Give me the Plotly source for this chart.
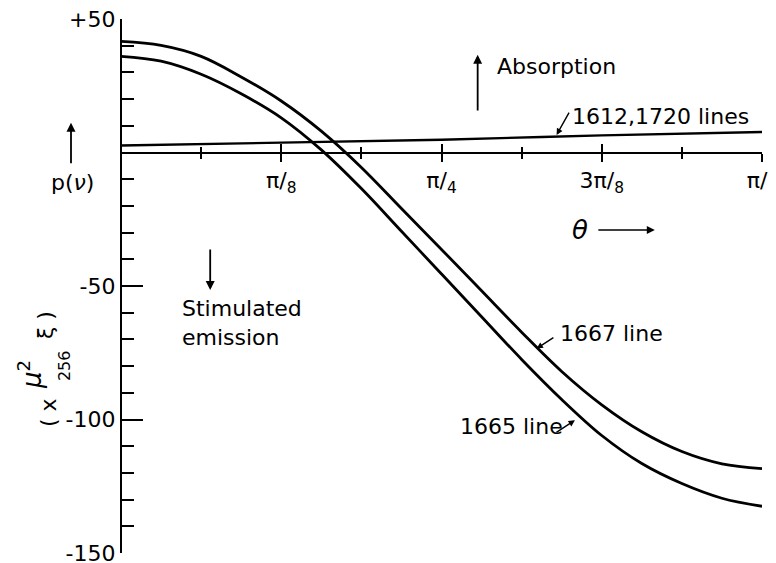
import numpy as np
import plotly.graph_objects as go

# ---- data (theta in steps of pi/32) ----
THETA = [k * np.pi / 32 for k in range(17)]
P1667 = [41.6, 40.1, 36.0, 28.3, 19.3, 8.0, -5.6, -21.0, -36.3, -51.8, -67.3,
         -82.0, -94.5, -104.6, -112.0, -116.6, -118.4]
P1665 = [36.0, 34.2, 29.3, 22.0, 13.0, 1.0, -13.5, -29.5, -45.5, -61.5, -77.5,
         -92.5, -106.0, -116.5, -124.0, -129.5, -132.5]

THETA_SAT = [0, np.pi/8, np.pi/4, 3*np.pi/8, np.pi/2]
P1612 = [2.6, 3.7, 4.8, 6.4, 7.7]

X_TICKS = [np.pi/8, np.pi/4, 3*np.pi/8, np.pi/2]
X_TICKTEXT = ["π/<sub>8</sub>", "π/<sub>4</sub>", "3π/<sub>8</sub>", "π/<sub>2</sub>"]
X_MINOR = [np.pi/16, 3*np.pi/16, 5*np.pi/16, 7*np.pi/16]

Y_TICKS = [50, -50, -100, -150]
Y_TICKTEXT = ["+50", "-50", "-100", "-150"]
Y_MINOR = [40, 30, 20, 10, -10, -20, -30, -40, -60, -70, -80, -90,
           -110, -120, -130, -140]

FONT = "DejaVu Sans"
FS = 22

fig = go.Figure()
for ys in (P1667, P1665):
    fig.add_trace(go.Scatter(x=THETA, y=ys, mode="lines",
                             line=dict(color="black", width=2.8, shape="spline", smoothing=1.0),
                             hoverinfo="skip"))
fig.add_trace(go.Scatter(x=THETA_SAT, y=P1612, mode="lines", xaxis="x2",
                         line=dict(color="black", width=2.4, shape="spline"),
                         hoverinfo="skip"))

axis_common = dict(range=[0, np.pi/2], anchor="free", position=0.75,
                   showgrid=False, zeroline=False, automargin=False)

# page body has an 8px margin: the plot area is placed so that it lands at
# x 121..762, y 19..553 of the 776x563 window
fig.update_layout(
    width=776, height=563,
    margin=dict(l=113, r=22, t=11, b=18, autoexpand=False),
    paper_bgcolor="white", plot_bgcolor="white",
    showlegend=False,
    font=dict(family=FONT, color="black", size=FS),
    xaxis=dict(**axis_common, showline=True, linecolor="black", linewidth=2.4,
               ticks="outside", ticklen=8, tickwidth=2, tickcolor="black",
               tickmode="array", tickvals=X_TICKS, ticktext=X_TICKTEXT,
               ticklabeloverflow="allow",
               tickfont=dict(family=FONT, size=FS, color="black"),
               minor=dict(ticks="outside", ticklen=5, tickwidth=1.6, tickcolor="black",
                          tickmode="array", tickvals=X_MINOR)),
    xaxis2=dict(**axis_common, overlaying="x", showline=False,
                ticks="inside", ticklen=9, tickwidth=2, tickcolor="black",
                tickmode="array", tickvals=X_TICKS, showticklabels=False,
                minor=dict(ticks="inside", ticklen=6, tickwidth=1.6, tickcolor="black",
                           tickmode="array", tickvals=X_MINOR)),
    yaxis=dict(range=[-150, 50], anchor="free", position=0, automargin=False,
               showline=True, linecolor="black", linewidth=2.4,
               showgrid=False, zeroline=False,
               ticks="inside", ticklen=21, tickwidth=2, tickcolor="black",
               tickmode="array", tickvals=Y_TICKS, ticktext=Y_TICKTEXT,
               ticklabeloverflow="allow",
               tickfont=dict(family=FONT, size=FS, color="black"),
               minor=dict(ticks="inside", ticklen=12, tickwidth=2, tickcolor="black",
                          tickmode="array", tickvals=Y_MINOR)),
)

def arrow(x, y, ax, ay, width=1.8, head=2, size=1.0):
    return dict(x=x, y=y, ax=ax, ay=ay, xref="x", yref="y", axref="x", ayref="y",
                text="", showarrow=True, arrowhead=head, arrowsize=size,
                arrowwidth=width, arrowcolor="black")

def label(x, y, text, xanchor="left", size=FS, ref="data", angle=0, align="left"):
    r = ("x", "y") if ref == "data" else ("paper", "paper")
    return dict(x=x, y=y, xref=r[0], yref=r[1], text=text, showarrow=False,
                xanchor=xanchor, yanchor="middle", align=align, textangle=angle,
                font=dict(size=size))

ann = []
# Absorption
ann.append(arrow(0.874, 36.6, 0.874, 15.2))
ann.append(label(0.9164, 32.2, "Absorption"))
# 1612, 1720 lines
ann.append(arrow(1.0675, 6.6, 1.1000, 15.5, width=1.4, size=0.9))
ann.append(label(1.100, 13.5, "1612,1720 lines"))
# theta arrow
ann.append(label(1.1245, -29, "<i>θ</i>", xanchor="center", size=26))
ann.append(arrow(1.3081, -29, 1.1661, -29, width=1.6))
# Stimulated emission
ann.append(arrow(0.2186, -51.5, 0.2186, -35.8))
ann.append(label(0.1452, -64, "Stimulated<br>emission"))
# 1667 line
ann.append(arrow(1.0185, -73.4, 1.0633, -69.0, width=1.4, size=0.9))
ann.append(label(1.0706, -67.8, "1667 line"))
# 1665 line
ann.append(arrow(1.1123, -100.3, 1.0633, -105.2, width=1.4, size=0.9))
ann.append(label(0.8258, -102.8, "1665 line"))
# y-axis label: up arrow + p(nu)
ann.append(dict(x=-0.0780, y=0.8058, xref="paper", yref="paper", axref="pixel", ayref="pixel",
                ax=0, ay=42, text="", showarrow=True, arrowhead=2, arrowsize=1.0,
                arrowwidth=1.8, arrowcolor="black"))
ann.append(label(-0.0749, 0.6934, "p(<i>ν</i>)", xanchor="center", ref="paper"))
# rotated unit label  ( x  mu^2/256  xi )
ann.append(label(-0.1123, 0.2622, "( x", xanchor="center", ref="paper", angle=-90, size=22))
ann.append(label(-0.1420, 0.3350, "<i>μ</i><sup>2</sup>", xanchor="center", ref="paper",
                 angle=-90, size=26))
ann.append(label(-0.0889, 0.3500, "256", xanchor="center", ref="paper", angle=-90, size=16))
ann.append(label(-0.1170, 0.4270, "ξ )", xanchor="center", ref="paper", angle=-90, size=22))

fig.update_layout(annotations=ann)

fig.write_html("out.html")
